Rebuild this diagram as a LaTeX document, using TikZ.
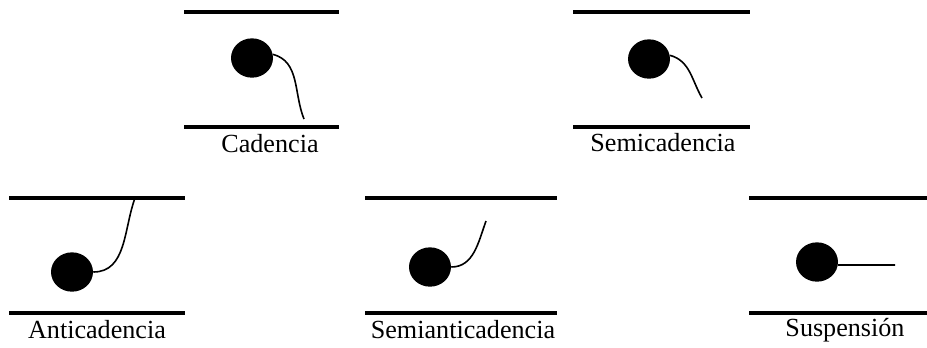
\documentclass[tikz,border=0pt]{standalone}
\usepackage{fontspec}
\setmainfont{Liberation Serif}
\usetikzlibrary{shapes.geometric}
\tikzset{
  staff/.style={line width=2.6pt},
  notehead/.style={ellipse, fill=black, inner sep=0pt, minimum width=31.5pt, minimum height=29.5pt},
  stem/.style={line width=1.2pt},
  caption/.style={anchor=base, font=\fontsize{19.6}{23}\selectfont}
}
\begin{document}
\begin{tikzpicture}[x=0.75pt, y=0.75pt]
\useasboundingbox (0,0) rectangle (927,-347);

% Cadencia
\draw[staff] (184,-12) -- (339,-12);
\draw[staff] (184,-127) -- (339,-127);
\node[notehead] (cad) at (252,-58) {};
\coordinate (cadend) at (304,-119);
\draw[stem] (cad.10) to[out=-15, in=112] (cadend);
\node[caption] (cadlabel) at (270,-152.5) {Cadencia};

% Semicadencia
\draw[staff] (573,-12) -- (750,-12);
\draw[staff] (573,-127) -- (750,-127);
\node[notehead] (semicad) at (649,-59) {};
\coordinate (semicadend) at (702,-98);
\draw[stem] (semicad.10) to[out=-15, in=120] (semicadend);
\node[caption] (semicadlabel) at (663,-151.5) {Semicadencia};

% Anticadencia
\draw[staff] (9,-198) -- (185,-198);
\draw[staff] (9,-313) -- (185,-313);
\node[notehead] (anticad) at (72,-272) {};
\coordinate (anticadend) at (135,-198);
\draw[stem] (anticad.east) to[out=0, in=-110] (anticadend);
\node[caption] (anticadlabel) at (97,-338.3) {Anticadencia};

% Semianticadencia
\draw[staff] (365,-198) -- (557,-198);
\draw[staff] (365,-313) -- (557,-313);
\node[notehead] (semianticad) at (430,-267) {};
\coordinate (semianticadend) at (486,-221);
\draw[stem] (semianticad.east) to[out=0, in=-110] (semianticadend);
\node[caption] (semianticadlabel) at (463,-338.3) {Semianticadencia};

% Suspension
\draw[staff] (749,-198) -- (927,-198);
\draw[staff] (749,-313) -- (927,-313);
\node[notehead] (susp) at (817,-262) {};
\coordinate (suspend) at (895,-265);
\draw[stem] (susp.-8) -- (suspend);
\node[caption] (susplabel) at (845,-336.7) {Suspensión};

\end{tikzpicture}
\end{document}
